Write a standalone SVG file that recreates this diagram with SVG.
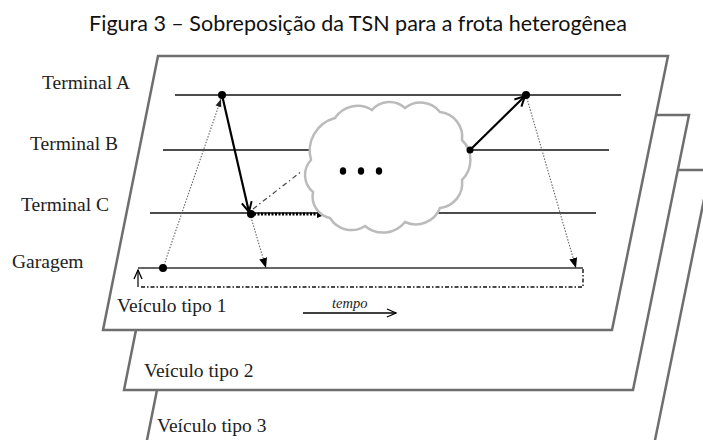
<svg xmlns="http://www.w3.org/2000/svg" width="703" height="440" viewBox="0 0 703 440">
<style>
.plane{fill:#fff;stroke:#6e6e6e;stroke-width:2.5;stroke-linejoin:miter}
.lbl{font-family:"Liberation Serif","Times New Roman",serif;font-size:19.5px;fill:#222}
.term{stroke:#111;stroke-width:1.5;fill:none}
.dot{fill:#000}
.dotted{stroke:#666;stroke-width:1.1;stroke-dasharray:1.5 1.5;fill:none}
.solid{stroke:#000;stroke-width:2.2;fill:none}
.title{font-family:Lato,"Noto Sans",sans-serif;font-size:21.5px;fill:#111}
</style>
<defs>
<marker id="open" markerUnits="userSpaceOnUse" markerWidth="14" markerHeight="14" refX="11" refY="6" orient="auto">
<path d="M1,1 L11,6 L1,11" fill="none" stroke="#000" stroke-width="2"/>
</marker>
<marker id="openThin" markerUnits="userSpaceOnUse" markerWidth="12" markerHeight="12" refX="10" refY="5" orient="auto">
<path d="M1,1 L10,5 L1,9" fill="none" stroke="#000" stroke-width="1.3"/>
</marker>
<marker id="tri" markerUnits="userSpaceOnUse" markerWidth="12" markerHeight="12" refX="10" refY="5" orient="auto">
<path d="M0,1 L10,5 L0,9 Z" fill="#000"/>
</marker>
<marker id="triS" markerUnits="userSpaceOnUse" markerWidth="10" markerHeight="10" refX="8" refY="4" orient="auto">
<path d="M0,1 L8,4 L0,7 Z" fill="#222"/>
</marker>
</defs>

<text class="title" x="358" y="31" text-anchor="middle">Figura 3 – Sobreposição da TSN para a frota heterogênea</text>

<g id="plane3">
<polygon class="plane" points="201,170 710,170 654,445 146,445"/>
<text class="lbl" x="157" y="432">Veículo tipo 3</text>
</g>
<g id="plane2">
<polygon class="plane" points="179,115 689,115 633,390 124,390"/>
<text class="lbl" x="144" y="377">Veículo tipo 2</text>
</g>
<g id="plane1">
<polygon class="plane" points="158,56 668,56 612,330 103,330"/>
<text class="lbl" x="117" y="312">Veículo tipo 1</text>
</g>

<g id="labels">
<text class="lbl" x="42" y="89">Terminal A</text>
<text class="lbl" x="30" y="150">Terminal B</text>
<text class="lbl" x="21" y="211">Terminal C</text>
<text class="lbl" x="12" y="268">Garagem</text>
</g>

<g id="timelines">
<line class="term" x1="175" y1="95" x2="621" y2="95"/>
<line class="term" x1="163" y1="150" x2="609" y2="150"/>
<line class="term" x1="150" y1="213" x2="596" y2="213"/>
<line x1="138" y1="268" x2="583" y2="268" stroke="#666" stroke-width="2"/>
<path d="M141,287 L583,287 L583,268" fill="none" stroke="#111" stroke-width="1.4" stroke-dasharray="4 2 1.5 2"/>
</g>

<g id="connectors">
<line class="dotted" x1="163" y1="268" x2="221" y2="99" marker-end="url(#triS)"/>
<line class="dotted" x1="250" y1="214" x2="266" y2="268" marker-end="url(#tri)"/>
<line class="dotted" x1="526" y1="95" x2="576" y2="268" marker-end="url(#tri)"/>
<line class="solid" x1="222" y1="95" x2="249" y2="212" marker-end="url(#open)"/>
<line x1="253" y1="209" x2="302" y2="171" stroke="#444" stroke-width="1.2" stroke-dasharray="5 3 1.5 3"/>
<line x1="254" y1="214" x2="327" y2="214" stroke="#000" stroke-width="3" stroke-dasharray="2 1.5" marker-end="url(#tri)"/>
<line class="solid" x1="470" y1="150" x2="525" y2="96" marker-end="url(#open)"/>
<line x1="138" y1="287" x2="138" y2="270" stroke="#000" stroke-width="1.2" marker-end="url(#openThin)"/>
<line x1="303" y1="313" x2="396" y2="313" stroke="#000" stroke-width="1.3" marker-end="url(#openThin)"/>
<text x="332" y="308" font-family="Liberation Serif,serif" font-style="italic" font-size="14.5" fill="#222">tempo</text>
</g>

<g id="cloud">
<path d="M311,160 A34,34 0 0 1 335,118 A27,27 0 0 1 372,110 A23,23 0 0 1 405,108 A25,25 0 0 1 440,112 A25,25 0 0 1 462,140 A28,28 0 0 1 462,180 A25,25 0 0 1 440,208 A26,26 0 0 1 405,222 A28,28 0 0 1 365,226 A25,25 0 0 1 330,218 A22,22 0 0 1 313,192 A22,22 0 0 1 311,160 Z" fill="#fff" stroke="#bbb" stroke-width="2.5"/>
<ellipse cx="343" cy="171" rx="3.2" ry="3.8" fill="#000"/>
<ellipse cx="361" cy="171" rx="3.2" ry="3.8" fill="#000"/>
<ellipse cx="379" cy="171" rx="3.2" ry="3.8" fill="#000"/>
</g>

<g id="events">
<circle class="dot" cx="222" cy="95" r="4"/>
<circle class="dot" cx="251" cy="214" r="4"/>
<circle class="dot" cx="163" cy="268" r="4"/>
<circle class="dot" cx="470" cy="150" r="3.5"/>
<circle class="dot" cx="526" cy="95" r="4"/>
</g>
</svg>
